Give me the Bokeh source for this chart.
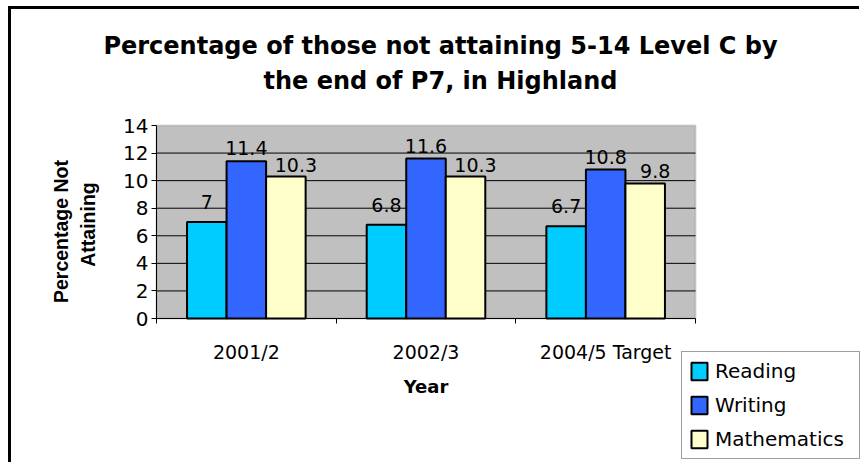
import math
from bokeh.plotting import figure
from bokeh.models import (Range1d, FixedTicker, Label, Legend, LegendItem,
                          ColumnDataSource, LinearAxis, BoxAnnotation)
from bokeh.transform import dodge
from bokeh.embed import file_html
from bokeh.resources import INLINE
from bokeh.core.properties import value

# ---- data ----
categories = ["2001/2", "2002/3", "2004/5 Target"]
series = ["Reading", "Writing", "Mathematics"]
reading = [7, 6.8, 6.7]
writing = [11.4, 11.6, 10.8]
mathematics = [10.3, 10.3, 9.8]
y_ticks = [0, 2, 4, 6, 8, 10, 12, 14]
title_lines = ["Percentage of those not attaining 5-14 Level C by",
               "the end of P7, in Highland"]
y_label_lines = ["Percentage Not", "Attaining"]
x_label = "Year"

# ---- styles ----
colors = ["#00CCFF", "#3366FF", "#FFFFCC"]
offsets = [-0.22, 0.0, 0.22]
label_dy = [-20, -13, -12]
label_dx = [0, 0, 10]
FONT = "DejaVu Sans"

n = len(categories)
xc = [i + 0.5 for i in range(n)]
values = [reading, writing, mathematics]
data = dict(x=xc)
for name, vals in zip(series, values):
    data[name] = vals
    data[name + "_lbl"] = [f"{v:g}" for v in vals]
source = ColumnDataSource(data)

# ---- layout (page pixels) ----
CX, CY = 11, 9            # canvas origin on the page (after border)
W, H = 851, 456           # canvas size
PX0, PX1 = 156, 695       # plot area left/right (x = 0 .. n)
PY0, PY1 = 318, 125       # plot area bottom/top (y = min .. max tick)
ppx = (PX1 - PX0) / n
ppy = (PY0 - PY1) / (y_ticks[-1] - y_ticks[0])

def dx(px):
    return (px - PX0) / ppx

def dy(py):
    return y_ticks[0] + (PY0 - py) / ppy

p = figure(width=W, height=H, output_backend="svg", toolbar_location=None,
           title=None, min_border=0,
           x_range=Range1d(dx(CX), dx(CX + W)),
           y_range=Range1d(dy(CY + H), dy(CY)),
           x_axis_location=None, y_axis_location=None,
           background_fill_color="white", border_fill_color="white")
p.outline_line_color = None
p.grid.visible = False
p.styles = {"border-left": "3px solid black", "border-top": "3px solid black",
            "margin-left": "8px", "margin-top": "6px"}

# plot area
p.add_layout(BoxAnnotation(left=0, right=n, bottom=y_ticks[0], top=y_ticks[-1],
                           fill_color="#C0C0C0", fill_alpha=1,
                           line_color="#808080", line_width=2, level="underlay"))
grid_y = y_ticks[1:-1]
p.segment(x0=[0] * len(grid_y), x1=[n] * len(grid_y), y0=grid_y, y1=grid_y,
          line_color="black", line_width=1)

# y axis
yaxis = LinearAxis(fixed_location=0, bounds=(y_ticks[0], y_ticks[-1]),
                   ticker=FixedTicker(ticks=y_ticks))
yaxis.major_tick_out = 5
yaxis.major_tick_in = 0
yaxis.minor_tick_line_color = None
yaxis.axis_line_color = "black"
yaxis.major_tick_line_color = "black"
yaxis.major_label_text_font = FONT
yaxis.major_label_text_font_size = "20px"
yaxis.major_label_text_color = "black"
yaxis.major_label_standoff = 3
p.add_layout(yaxis, "left")

# x axis
xaxis = LinearAxis(fixed_location=y_ticks[0], bounds=(0, n),
                   ticker=FixedTicker(ticks=xc, minor_ticks=list(range(n + 1))))
xaxis.major_label_overrides = {x: c for x, c in zip(xc, categories)}
xaxis.major_tick_out = 0
xaxis.major_tick_in = 0
xaxis.minor_tick_out = 5
xaxis.minor_tick_in = 0
xaxis.minor_tick_line_color = "black"
xaxis.axis_line_color = "black"
xaxis.major_label_text_font = FONT
xaxis.major_label_text_font_size = "19px"
xaxis.major_label_text_color = "black"
xaxis.major_label_standoff = 17
p.add_layout(xaxis, "below")

# bars + labels
items = []
for name, col, off, ldy, ldx in zip(series, colors, offsets, label_dy, label_dx):
    r = p.vbar(x=dodge("x", off), top=name, width=0.22, bottom=y_ticks[0],
               source=source, fill_color=col, line_color="black", line_width=2)
    p.text(x=dodge("x", off), y=name, text=name + "_lbl", source=source,
           text_align="center", text_baseline="alphabetic",
           y_offset=ldy, x_offset=ldx,
           text_font=value(FONT), text_font_size="19px", text_color="black")
    items.append(LegendItem(label=name, renderers=[r]))

# titles / axis titles
for line, py in zip(title_lines, [45, 80]):
    p.add_layout(Label(x=dx(440), y=dy(py), text=line, text_align="center",
                       text_baseline="alphabetic", text_font=FONT,
                       text_font_size="24px", text_font_style="bold",
                       text_color="black"))

for line, px, py in zip(y_label_lines, [60, 87], [231, 224]):
    p.add_layout(Label(x=dx(px), y=dy(py), text=line, angle=math.pi / 2,
                       text_align="center", text_baseline="alphabetic",
                       text_font="Liberation Sans", text_font_size="19.5px",
                       text_font_style="bold", text_color="black"))

p.add_layout(Label(x=dx(425.5), y=dy(386), text=x_label, text_align="center",
                   text_baseline="alphabetic", text_font=FONT,
                   text_font_size="18px", text_font_style="bold",
                   text_color="black"))

# legend (frame == whole canvas)
legend = Legend(items=items, location=(681 - CX, (CY + H) - 459),
                orientation="vertical", padding=7, spacing=10,
                glyph_width=20, glyph_height=22, label_standoff=6,
                label_width=137, label_text_font=FONT,
                label_text_font_size="20px", label_text_color="black",
                border_line_color="#404040", border_line_width=1,
                background_fill_color="white", background_fill_alpha=1)
p.add_layout(legend)

open("out.html", "w").write(file_html(p, INLINE))
